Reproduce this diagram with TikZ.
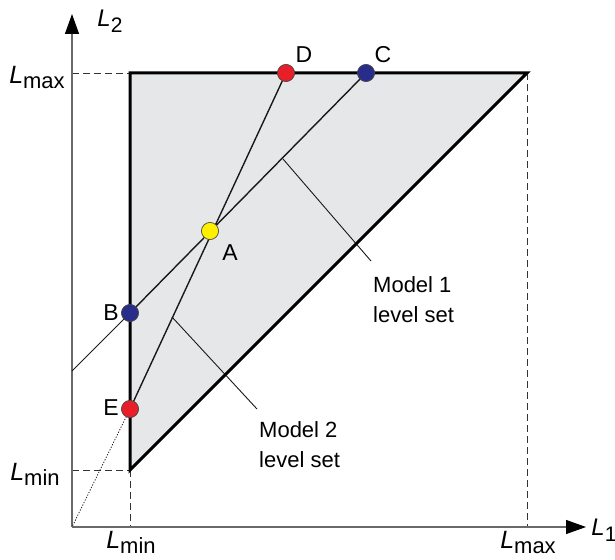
\documentclass[tikz,border=0pt]{standalone}
\usepackage{fontspec}
\setmainfont{Liberation Sans}
\usetikzlibrary{arrows.meta}
\definecolor{regfill}{RGB}{230,231,233}
\definecolor{axisgray}{RGB}{105,105,105}
\definecolor{dotred}{RGB}{232,30,40}
\definecolor{dotblue}{RGB}{40,45,140}
\definecolor{dotyellow}{RGB}{255,240,0}
\newcommand{\Lsym}[1]{{\fontsize{25}{28}\selectfont\textit{L}}\raisebox{-5pt}{\fontsize{22}{26}\selectfont #1}}
\newcommand{\Laxis}[1]{{\fontsize{24}{28}\selectfont\textit{L}}\raisebox{-6pt}{\fontsize{21}{24}\selectfont #1}}
\tikzset{
  axisline/.style={draw=axisgray, line width=1.1pt, -{Triangle[length=20pt,width=14pt,color=black]}},
  guide/.style={draw=black!80, line width=0.9pt, dash pattern=on 7pt off 4pt},
  edge/.style={draw=black, line width=3pt, line join=miter},
  levelline/.style={draw=black!90, line width=1.4pt},
  thinline/.style={draw=black!90, line width=0.8pt},
  dotline/.style={draw=black!90, line width=0.8pt, dash pattern=on 1.2pt off 1.6pt},
  leader/.style={draw=black!90, line width=0.9pt},
  pt/.style={circle, draw=black!70, line width=0.6pt, minimum size=17pt, inner sep=0pt},
  lbl/.style={font=\fontsize{22}{30}\selectfont, inner sep=0pt},
  ptlbl/.style={font=\fontsize{23}{28}\selectfont, inner sep=0pt},
  axlbl/.style={inner sep=0pt},
}
\begin{document}
\begin{tikzpicture}[x=1pt,y=-1pt]
\useasboundingbox (0,0) rectangle (615,559);
% key coordinates
\coordinate (O) at (72,527);
\coordinate (P) at (130,470);
\coordinate (Q) at (130,73);
\coordinate (R) at (527,73);
\coordinate (Xend) at (586,527);
\coordinate (Yend) at (72,14);
\coordinate (Ymax) at (72,73);
\coordinate (Ymin) at (72,470);
\coordinate (Xmin) at (130,527);
\coordinate (Xmax) at (527,527);
\coordinate (F) at (72,371);
\coordinate (M1a) at (283,159);
\coordinate (M1b) at (371,261);
\coordinate (M2a) at (172,317);
\coordinate (M2b) at (257,409);
% region
\fill[regfill] (P) -- (Q) -- (R) -- cycle;
% guides
\draw[guide] (Ymax) -- (Q);
\draw[guide] (Ymin) -- (P);
\draw[guide] (P) -- (Xmin);
\draw[guide] (R) -- (Xmax);
% axes
\draw[axisline] (O) -- (Xend);
\draw[axisline] (O) -- (Yend);
% points
\node[pt, fill=dotred] (D) at (286,73) {};
\node[pt, fill=dotblue] (C) at (366,73) {};
\node[pt, fill=dotyellow] (A) at (210,231) {};
\node[pt, fill=dotblue] (B) at (130,313) {};
\node[pt, fill=dotred] (E) at (130,409) {};
% level sets
\draw[levelline] (D.center) -- (E.center);
\draw[levelline] (C.center) -- (B.center);
\draw[thinline] (B.center) -- (F);
\draw[dotline] (E.center) -- (O);
% leaders
\draw[leader] (M1a) -- (M1b);
\draw[leader] (M2a) -- (M2b);
% triangle edges
\draw[edge] (P) -- (Q) -- (R) -- cycle;
% redraw dots on top
\node[pt, fill=dotred] at (D) {};
\node[pt, fill=dotblue] at (C) {};
\node[pt, fill=dotyellow] at (A) {};
\node[pt, fill=dotblue] at (B) {};
\node[pt, fill=dotred] at (E) {};
% point labels
\node[ptlbl] (lD) at (304,55) {D};
\node[ptlbl] (lC) at (383,55) {C};
\node[ptlbl] (lA) at (230,253) {A};
\node[ptlbl] (lB) at (111,313) {B};
\node[ptlbl] (lE) at (111,408) {E};
% level set labels
\node[lbl, anchor=west, align=left] (m1) at (373,300) {Model 1\\level set};
\node[lbl, anchor=west, align=left] (m2) at (259,445) {Model 2\\level set};
% axis labels
\node[axlbl] (L2) at (110,21) {\Laxis{2}};
\node[axlbl] (L1) at (604,530) {\Laxis{1}};
\node[axlbl] (Lmax) at (37,78) {\Lsym{max}};
\node[axlbl] (Lmin) at (35,474) {\Lsym{min}};
\node[axlbl] (Lminx) at (131,542) {\Lsym{min}};
\node[axlbl] (Lmaxx) at (528,543) {\Lsym{max}};
\end{tikzpicture}
\end{document}
